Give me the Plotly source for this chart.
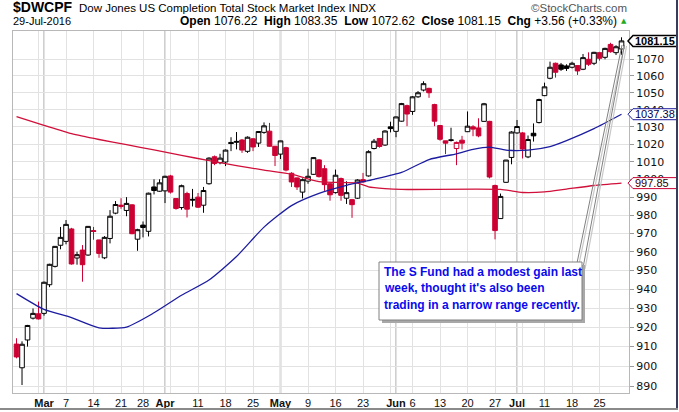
import math
import pandas as pd
import plotly.graph_objects as go

# trading days shown on the chart (Feb 23 - Jul 29 2016, market holidays removed)
holidays = ['2016-03-25', '2016-05-30', '2016-07-04']
days = pd.bdate_range('2016-02-23', '2016-07-29')
dates = [d.strftime('%Y-%m-%d') for d in days if d.strftime('%Y-%m-%d') not in holidays]

opens = [911.3, 899.2, 913.4, 924.7, 927.0, 927.2, 942.3, 952.1, 963.5, 965.6,
         972.4, 956.6, 960.9, 958.2, 971.5, 966.4, 956.7, 967.2, 981.1, 984.8,
         982.6, 985.7, 966.8, 974.5, 971.1, 995.7, 993.3, 993.5, 1001.9, 989.2,
         984.2, 992.0, 988.8, 990.0, 985.5, 997.5, 1012.8, 1009.4, 1009.8, 1021.0,
         1021.6, 1022.4, 1015.9, 1023.1, 1020.6, 1026.8, 1027.5, 1018.8, 1014.3, 1018.0,
         1003.4, 1000.8, 992.8, 999.0, 1002.8, 1011.0, 1006.0, 997.5, 992.5, 1000.4,
         989.4, 988.6, 989.4, 999.8, 1001.9, 1017.5, 1023.3, 1019.5, 1030.0, 1027.4,
         1033.3, 1042.4, 1039.0, 1047.6, 1051.6, 1052.6, 1043.0, 1030.8, 1021.9, 1022.5,
         1017.5, 1022.3, 1027.2, 1030.0, 1029.4, 1033.2, 1033.2, 996.5, 978.1, 998.3,
         1012.4, 1026.5, 1026.5, 1012.7, 1026.3, 1032.5, 1048.3, 1058.6, 1067.6, 1066.6,
         1066.0, 1065.2, 1066.2, 1064.0, 1070.0, 1067.6, 1074.0, 1071.2, 1079.0, 1074.0,
         1076.22]
highs = [914.3, 912.7, 921.2, 929.8, 933.4, 944.0, 953.5, 963.0, 973.5, 977.3,
         973.0, 960.0, 963.6, 974.0, 973.5, 966.5, 968.5, 982.8, 987.8, 989.4,
         990.0, 986.0, 972.5, 976.5, 992.5, 1000.0, 1000.0, 1002.0, 1002.5, 989.5,
         997.0, 993.0, 994.6, 992.3, 995.7, 1012.5, 1013.5, 1014.5, 1017.0, 1024.0,
         1027.0, 1023.0, 1024.5, 1023.5, 1027.5, 1032.6, 1032.3, 1019.0, 1022.0, 1018.5,
         1004.0, 1001.0, 1000.5, 1006.0, 1012.5, 1011.5, 1008.0, 998.0, 1005.5, 1001.0,
         998.9, 989.0, 1000.0, 1003.6, 1016.5, 1023.0, 1023.5, 1028.0, 1033.0, 1036.0,
         1044.0, 1043.0, 1048.0, 1051.0, 1056.8, 1053.0, 1043.5, 1031.0, 1022.0, 1029.5,
         1021.5, 1024.8, 1039.0, 1031.0, 1035.0, 1044.0, 1033.5, 997.0, 992.0, 1011.0,
         1027.5, 1034.0, 1027.0, 1025.0, 1032.0, 1046.5, 1056.0, 1068.6, 1068.0, 1067.8,
         1067.0, 1068.5, 1066.5, 1073.2, 1074.2, 1074.5, 1074.5, 1077.0, 1080.0, 1078.5,
         1083.35]
lows = [904.0, 890.5, 910.0, 924.0, 924.0, 926.0, 941.0, 951.5, 961.3, 964.0,
        953.0, 953.0, 943.9, 957.8, 966.5, 956.7, 956.0, 964.5, 980.5, 983.5,
        979.4, 969.5, 960.5, 967.8, 968.3, 991.5, 993.0, 986.7, 992.0, 983.0,
        983.0, 978.7, 984.8, 984.0, 981.3, 997.0, 1008.0, 1008.5, 1007.5, 1016.0,
        1017.0, 1015.0, 1015.0, 1016.0, 1018.4, 1026.0, 1018.5, 1007.5, 1011.5, 1004.5,
        995.7, 994.0, 989.3, 997.5, 1002.5, 1001.0, 993.5, 988.0, 992.0, 988.0,
        986.2, 978.5, 989.0, 998.0, 1001.5, 1017.0, 1018.0, 1019.0, 1026.8, 1024.0,
        1033.0, 1030.4, 1037.0, 1047.0, 1050.8, 1047.0, 1030.4, 1022.0, 1014.3, 1021.5,
        1008.0, 1017.0, 1027.0, 1024.6, 1024.0, 1033.0, 1000.5, 966.7, 978.0, 998.0,
        1008.5, 1026.0, 1011.8, 1012.0, 1021.5, 1032.0, 1048.0, 1058.0, 1059.0, 1063.0,
        1063.0, 1064.5, 1060.6, 1063.5, 1066.0, 1066.5, 1069.2, 1070.0, 1074.0, 1072.6,
        1072.62]
closes = [904.7, 911.2, 920.9, 927.2, 924.3, 943.6, 953.2, 962.9, 967.8, 974.9,
          953.4, 958.4, 953.0, 973.8, 971.0, 959.1, 967.8, 979.4, 985.9, 985.5,
          986.5, 969.8, 972.0, 973.2, 992.2, 993.7, 998.0, 1001.7, 992.8, 983.7,
          996.4, 983.3, 988.4, 984.4, 993.7, 1012.0, 1009.0, 1012.0, 1016.6, 1020.4,
          1021.2, 1016.6, 1024.0, 1018.4, 1027.3, 1030.6, 1018.8, 1013.5, 1021.9, 1005.2,
          998.5, 995.7, 999.8, 1001.7, 1012.3, 1001.5, 997.0, 991.3, 1002.3, 991.0,
          992.5, 985.8, 999.6, 998.5, 1015.7, 1021.7, 1018.7, 1027.6, 1029.0, 1035.8,
          1043.6, 1037.5, 1047.6, 1050.0, 1055.4, 1050.0, 1033.3, 1022.8, 1020.6, 1022.2,
          1021.0, 1020.6, 1030.4, 1028.7, 1024.8, 1043.5, 1001.3, 971.5, 990.4, 1010.9,
          1027.0, 1030.2, 1017.2, 1022.7, 1024.8, 1046.0, 1053.5, 1065.2, 1062.2, 1064.0,
          1064.5, 1067.6, 1063.0, 1071.0, 1067.0, 1074.2, 1070.6, 1076.6, 1074.6, 1077.59,
          1081.15]

# moving averages read at a few trading-day positions
ma50_pos = [0, 5, 10, 15, 20, 25, 30, 35, 40, 45, 50, 55, 60, 65, 70, 75, 80,
            83, 86, 89, 93, 97, 100, 105, 110]
ma50 = [937.6, 929.3, 925.0, 919.7, 920.1, 927.5, 936.7, 944.8, 957.4, 973.4,
        985.3, 992.1, 996.6, 1000.0, 1003.9, 1011.2, 1014.5, 1017.0, 1018.3, 1016.6,
        1016.6, 1018.6, 1022.1, 1029.0, 1037.38]
ma200_pos = [0, 5, 10, 15, 20, 25, 30, 35, 40, 45, 50, 55, 62, 64, 67, 70, 88,
             92, 96, 100, 105, 110]
ma200 = [1035.9, 1030.9, 1026.1, 1022.7, 1019.7, 1016.7, 1013.6, 1010.6, 1007.8, 1005.2,
         1002.9, 998.7, 997.8, 995.8, 994.8, 994.3, 994.3, 992.6, 992.9, 994.5,
         996.5, 997.85]

y_ticks = list(range(890, 1080, 10))
x_ticks = ['2016-02-29', '2016-03-01', '2016-03-07', '2016-03-14', '2016-03-21', '2016-03-28',
           '2016-04-01', '2016-04-04', '2016-04-11', '2016-04-18', '2016-04-25',
           '2016-05-02', '2016-05-09', '2016-05-16', '2016-05-23', '2016-05-31',
           '2016-06-01', '2016-06-06', '2016-06-13', '2016-06-20', '2016-06-27',
           '2016-07-01', '2016-07-05', '2016-07-11', '2016-07-18', '2016-07-25']
x_labels = ['', '<b>Mar</b>', '7', '14', '21', '28',
            '<b>Apr</b>', '', '11', '18', '25',
            '<b>May</b>', '9', '16', '23', '',
            '<b>Jun</b>', '6', '13', '20', '27',
            '<b>Jul</b>', '', '11', '18', '25']
month_starts = ['2016-03-01', '2016-04-01', '2016-05-02', '2016-06-01', '2016-07-01']

RED = '#cc0033'
BLACK = '#000000'
BLUE = '#1c1ca0'
W, H = 679, 412
L, R, T, B = 13, 50, 31, 19
y_lo, y_hi = math.log10(886.5), math.log10(1087.2)
SANS = 'Liberation Sans, Arial'


def px(x):
    return (x - L) / (W - L - R)


def py(y):
    return (H - B - y) / (H - T - B)


def val_to_paper(v):
    return (math.log10(v) - y_lo) / (y_hi - y_lo)


# StockCharts colouring: black when close >= previous close, red otherwise
up_idx, dn_idx = [], []
for i in range(len(dates)):
    if i > 0 and closes[i] >= closes[i - 1]:
        up_idx.append(i)
    else:
        dn_idx.append(i)

fig = go.Figure()

for idx, col in [(up_idx, BLACK), (dn_idx, RED)]:
    fig.add_trace(go.Candlestick(
        x=[dates[i] for i in idx],
        open=[opens[i] for i in idx],
        high=[highs[i] for i in idx],
        low=[lows[i] for i in idx],
        close=[closes[i] for i in idx],
        increasing=dict(line=dict(color=col, width=1), fillcolor='white'),
        decreasing=dict(line=dict(color=col, width=1), fillcolor=col),
        whiskerwidth=0,
        showlegend=False,
        hoverinfo='skip',
    ))

fig.add_trace(go.Scatter(
    x=[dates[i] for i in ma200_pos], y=ma200, mode='lines',
    line=dict(color='#d0103a', width=1.3, shape='spline', smoothing=0.6),
    showlegend=False, hoverinfo='skip',
))
fig.add_trace(go.Scatter(
    x=[dates[i] for i in ma50_pos], y=ma50, mode='lines',
    line=dict(color=BLUE, width=1.3, shape='spline', smoothing=0.6),
    showlegend=False, hoverinfo='skip',
))

# thicker month separators
for d in month_starts:
    fig.add_shape(type='line', xref='x', yref='paper', x0=d, x1=d, y0=0, y1=1,
                  line=dict(color='#cfcfcf', width=2), layer='below')

# callout lines from the note up to the last bar
for (x0, y0, x1, y1) in [(577, 263, 622, 45), (583, 268, 624.5, 45)]:
    fig.add_shape(type='line', xref='paper', yref='paper',
                  x0=px(x0 + 2), y0=py(y0 + 1), x1=px(x1 + 2), y1=py(y1 + 1),
                  line=dict(color='#c8c8c8', width=1.2), layer='above')
    fig.add_shape(type='line', xref='paper', yref='paper',
                  x0=px(x0), y0=py(y0), x1=px(x1), y1=py(y1),
                  line=dict(color='#808080', width=1), layer='above')

# note box with shadow
fig.add_shape(type='rect', xref='paper', yref='paper',
              x0=px(382), y0=py(323), x1=px(585), y1=py(265),
              fillcolor='#a8a8a8', line=dict(width=0), layer='above')
fig.add_shape(type='rect', xref='paper', yref='paper',
              x0=px(379), y0=py(320), x1=px(582), y1=py(262),
              fillcolor='white', line=dict(color='#808080', width=1), layer='above')
note = ["The S Fund had a modest gain last",
        "week, thought it's also been",
        "trading in a narrow range recently."]
for k, line in enumerate(note):
    fig.add_annotation(x=px(381.5), y=py(271.5 + 16.7 * k), xref='paper', yref='paper',
                       xanchor='left', yanchor='middle', showarrow=False,
                       text='<b>' + line + '</b>',
                       font=dict(family=SANS, size=12, color='#0a0aee'))

# price tags on the right axis
tags = [(ma200[-1], RED, '#330000', False),
        (ma50[-1], BLUE, '#000050', False),
        (closes[-1], BLACK, BLACK, True)]
for v, edge, tcol, bold in tags:
    yp = val_to_paper(v)
    fig.add_shape(type='path', xref='paper', yref='paper',
                  xsizemode='pixel', ysizemode='pixel', xanchor=1, yanchor=yp,
                  path='M -1 0 L 4 5.5 L 48 5.5 L 48 -5.5 L 4 -5.5 Z',
                  fillcolor='white', line=dict(color=edge, width=1.5 if bold else 1),
                  layer='above')
    txt = f'{v:.2f}'
    fig.add_annotation(x=1, y=yp, xref='paper', yref='paper', xanchor='left',
                       yanchor='middle', xshift=4, showarrow=False,
                       text=f'<b>{txt}</b>' if bold else txt,
                       font=dict(family=SANS, size=11, color=tcol))

# header
chg = closes[-1] - closes[-2]
pct = chg / closes[-2] * 100
hdr_font = dict(family=SANS, size=11.5, color='#000000')
fig.add_annotation(x=px(11), y=py(6.5), xref='paper', yref='paper', xanchor='left',
                   yanchor='middle', showarrow=False, text='<b>$DWCPF</b>',
                   font=dict(family=SANS, size=14, color='#000000'))
fig.add_annotation(x=px(77), y=py(8), xref='paper', yref='paper', xanchor='left',
                   yanchor='middle', showarrow=False,
                   text='Dow Jones US Completion Total Stock Market Index INDX', font=hdr_font)
fig.add_annotation(x=px(629), y=py(8), xref='paper', yref='paper', xanchor='right',
                   yanchor='middle', showarrow=False, text='\u00a9StockCharts.com',
                   font=dict(family=SANS, size=11.5, color='#555555'))
fig.add_annotation(x=px(11), y=py(21), xref='paper', yref='paper', xanchor='left',
                   yanchor='middle', showarrow=False, text='29-Jul-2016',
                   font=dict(family=SANS, size=11, color='#000000'))
fig.add_annotation(
    x=px(619), y=py(21), xref='paper', yref='paper', xanchor='right', yanchor='middle',
    showarrow=False,
    text=(f'<b>Open</b> {opens[-1]:.2f}  <b>High</b> {highs[-1]:.2f}  '
          f'<b>Low</b> {lows[-1]:.2f}  <b>Close</b> {closes[-1]:.2f}  '
          f'<b>Chg</b> {chg:+.2f} ({pct:+.2f}%)'),
    font=dict(family=SANS, size=12, color='#000000'))
fig.add_annotation(x=px(624), y=py(21), xref='paper', yref='paper', xanchor='center',
                   yanchor='middle', showarrow=False, text='\u25b2',
                   font=dict(family='DejaVu Sans', size=7, color='#22aa22'))

# outer frame (right and bottom edges of the picture)
fig.add_shape(type='line', xref='paper', yref='paper', x0=px(677), x1=px(677),
              y0=py(0), y1=py(409), line=dict(color='#3a3a5a', width=2), layer='above')
fig.add_shape(type='line', xref='paper', yref='paper', x0=px(0), x1=px(678),
              y0=py(409), y1=py(409), line=dict(color='#8a8a8a', width=2), layer='above')

fig.update_layout(
    width=W, height=H, autosize=False,
    margin=dict(l=L, r=R, t=T, b=B, pad=0),
    paper_bgcolor='white', plot_bgcolor='white',
    boxgap=0.12, boxgroupgap=0.05,
    showlegend=False,
    xaxis=dict(
        type='category', categoryorder='array', categoryarray=dates,
        range=[-0.64, len(dates) + 0.36], automargin=False,
        tickvals=x_ticks, ticktext=x_labels, tickangle=0,
        showgrid=True, gridcolor='#e2e2e2', gridwidth=1,
        ticks='', showline=True, linecolor='#b8b8b8', mirror=True,
        tickfont=dict(family=SANS, size=11, color='#111111'),
        rangeslider=dict(visible=False), fixedrange=True,
    ),
    yaxis=dict(
        type='log', range=[y_lo, y_hi], side='right', automargin=False,
        tickvals=y_ticks, ticktext=[str(v) for v in y_ticks],
        ticks='outside', ticklen=4, tickcolor='#999999',
        showgrid=True, gridcolor='#e2e2e2', gridwidth=1,
        showline=True, linecolor='#b8b8b8', mirror=True, zeroline=False,
        tickfont=dict(family='DejaVu Sans', size=11, color='#111111'),
        fixedrange=True,
    ),
)

# the page body has a default 8px margin; drop it so the chart sits at the window corner
fig.write_html("out.html", config={'displayModeBar': False},
               post_script="document.body.style.margin = '0';")
